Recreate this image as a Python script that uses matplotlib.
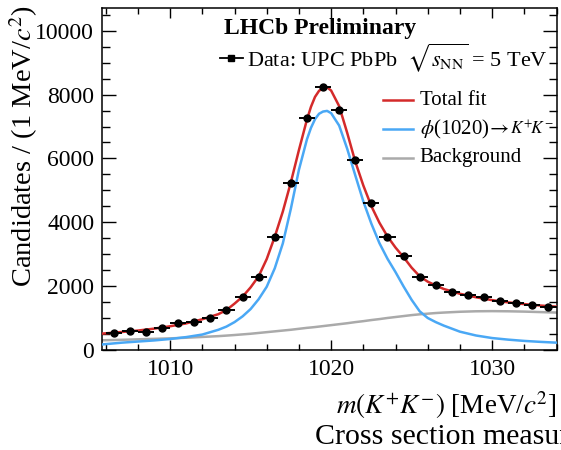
import numpy as np
import matplotlib
matplotlib.use("Agg")
import matplotlib.pyplot as plt
from matplotlib.ticker import MultipleLocator

plt.rcParams['font.family'] = ['Liberation Serif', 'DejaVu Serif']
plt.rcParams['mathtext.fontset'] = 'stix'

# Data: bin centres (1 MeV bins) and candidate counts
mass = np.arange(1006.5, 1034.0, 1.0)
counts = [510, 580, 540, 685, 825, 870, 980, 1240, 1660, 2290, 3520, 5240, 7260, 8250,
          7520, 5950, 4610, 3540, 2940, 2290, 2025, 1800, 1710, 1640, 1525, 1450, 1400, 1345]

# Fit components, tabulated along the mass axis
fit_mass = [1005.8, 1007, 1008, 1009, 1010, 1011, 1012, 1013, 1013.5, 1014, 1014.5, 1015,
            1015.5, 1016, 1016.5, 1017, 1017.5, 1018, 1018.5, 1018.75, 1019, 1019.25,
            1019.5, 1019.75, 1020, 1020.5, 1021, 1021.5, 1022, 1022.5, 1023, 1023.5, 1024,
            1024.5, 1025, 1025.5, 1026, 1026.5, 1027, 1028, 1029, 1030, 1031, 1032, 1033,
            1034]
total_fit = [500, 550, 595, 655, 730, 820, 950, 1110, 1240, 1440, 1660, 1950, 2300, 2840,
             3540, 4330, 5250, 6260, 7220, 7620, 7930, 8120, 8210, 8230, 8130, 7640, 6800,
             5900, 5150, 4500, 3980, 3550, 3200, 2900, 2570, 2300, 2130, 2010, 1900, 1750,
             1640, 1550, 1480, 1425, 1380, 1345]
phi_signal = [160, 215, 250, 285, 330, 390, 470, 620, 720, 860, 1040, 1270, 1580, 1970,
              2550, 3330, 4420, 5640, 6600, 6960, 7230, 7400, 7470, 7490, 7420, 7030, 6300,
              5470, 4650, 3950, 3340, 2850, 2430, 1980, 1560, 1200, 990, 860, 750, 560, 440,
              360, 310, 270, 240, 215]
background = [290, 305, 320, 335, 350, 370, 395, 420, 437, 455, 475, 495, 520, 545, 570,
              595, 620, 650, 680, 692, 705, 720, 735, 750, 765, 795, 825, 860, 890, 925, 955,
              990, 1020, 1050, 1080, 1105, 1125, 1145, 1160, 1185, 1200, 1205, 1200, 1190,
              1175, 1160]

RED = '#d42a2a'
BLUE = '#4aa8f5'
GREY = '#aaaaaa'
FS = 17

fig = plt.figure(figsize=(5.61, 4.5), dpi=100)
ax = fig.add_axes([0.1827, 0.2233, 0.8093, 0.7589])

ax.plot(fit_mass, background, color=GREY, lw=1.8, zorder=2)
ax.plot(fit_mass, phi_signal, color=BLUE, lw=1.8, zorder=3)
ax.plot(fit_mass, total_fit, color=RED, lw=1.8, zorder=4)
ax.errorbar(mass, counts, xerr=0.5, fmt='o', color='black', ms=5, elinewidth=1.4,
            capsize=0, zorder=5)

ax.set_xlim(1005.8, 1034.0)
ax.set_ylim(0, 10720)
ax.xaxis.set_major_locator(MultipleLocator(10))
ax.xaxis.set_minor_locator(MultipleLocator(2))
ax.yaxis.set_major_locator(MultipleLocator(2000))
ax.yaxis.set_minor_locator(MultipleLocator(500))
ax.tick_params(which='both', direction='in', top=True, right=True, width=1.0,
               labelsize=FS)
ax.tick_params(axis='x', which='major', length=7.5, pad=7)
ax.tick_params(axis='x', which='minor', length=4)
ax.tick_params(axis='y', which='major', length=10, pad=6)
ax.tick_params(axis='y', which='minor', length=5.5)
for sp in ax.spines.values():
    sp.set_linewidth(1.1)

ax.set_ylabel(r'Candidates / (1 MeV/$c^{2}$)', fontsize=20.5)
ax.yaxis.set_label_coords(-0.138, 1.008)
ax.yaxis.label.set_ha('right')
ax.set_xlabel(r'$m(K^{+}K^{-})$ [MeV/$c^{2}$]', fontsize=FS + 2.5)
ax.xaxis.set_label_coords(1.0, -0.115)
ax.xaxis.label.set_ha('right')

# Header and legend entries
ax.text(0.479, 0.941, 'LHCb Preliminary', transform=ax.transAxes, ha='center',
        va='center', fontsize=FS, fontweight='bold')
ax.plot([0.259, 0.309], [0.8536, 0.8536], transform=ax.transAxes, color='black',
        lw=1.3, clip_on=False)
ax.plot([0.284], [0.8536], transform=ax.transAxes, marker='s', color='black', ms=5)
ax.text(0.319, 0.8536, r'Data: UPC PbPb  $\sqrt{s_{\rm NN}}$ = 5 TeV',
        transform=ax.transAxes, ha='left', va='center', fontsize=16)

entries = [(RED, 'Total fit', 0.7306),
           (BLUE, r'$\phi$(1020)$\!\rightarrow$', 0.6457),
           (GREY, 'Background', 0.5608)]
for col, lab, yy in entries:
    ax.plot([0.618, 0.684], [yy, yy], transform=ax.transAxes, color=col, lw=1.8)
    ax.text(0.699, yy, lab, transform=ax.transAxes, ha='left', va='center',
            fontsize=15)
ax.text(0.897, 0.6457, r'$K^{+}\!K^{-}$', transform=ax.transAxes, ha='left',
        va='center', fontsize=12.5)

fig.text(0.5615, 0.028, 'Cross section measurement', ha='left', va='center',
         fontsize=21.5)

fig.savefig('out.png', dpi=100)
